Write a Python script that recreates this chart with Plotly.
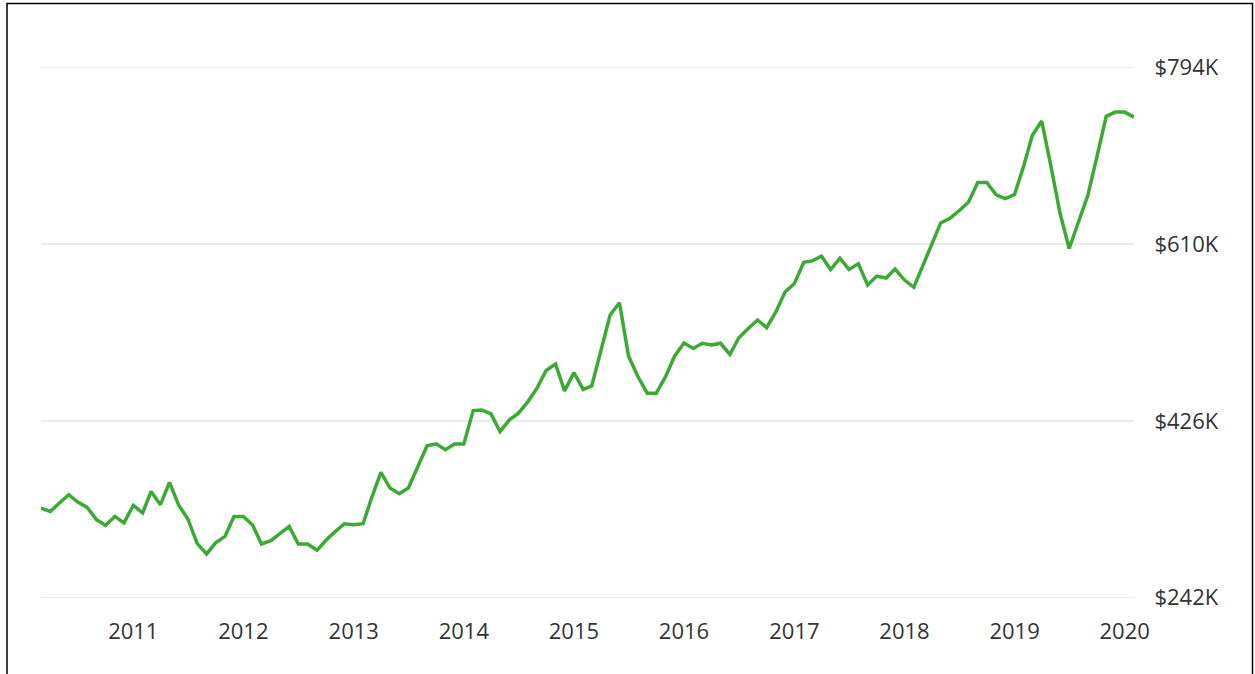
import pandas as pd
import plotly.graph_objects as go

# Monthly median values (thousand $), March 2010 .. February 2020
months = pd.date_range("2010-03-01", "2020-02-01", freq="MS").strftime("%Y-%m-%d").tolist()
values_k = [
    335.2, 331.7, 340.4, 349.1, 341.5, 335.9, 323.1, 317.2, 326.5, 319.7,
    338.0, 330.1, 352.5, 338.7, 361.9, 338.0, 323.8, 298.1, 287.4, 298.9,
    305.7, 326.5, 326.5, 317.2, 297.8, 301.3, 308.5, 316.1, 297.8, 297.8,
    291.2, 301.6, 310.9, 318.9, 317.9, 318.9, 345.6, 372.3, 356.0, 350.1,
    356.0, 377.9, 400.0, 402.1, 395.9, 401.8, 401.8, 436.7, 437.4, 433.3,
    414.9, 427.0, 434.0, 445.8, 460.3, 478.5, 485.1, 457.2, 476.2, 458.7,
    462.4, 499.8, 536.2, 549.0, 493.6, 472.1, 454.8, 454.8, 472.1, 493.6,
    507.1, 501.4, 506.8, 505.0, 506.8, 495.1, 512.6, 522.2, 531.0, 523.0,
    539.6, 560.1, 569.1, 591.0, 592.6, 597.5, 583.5, 595.4, 583.7, 589.5,
    567.4, 576.7, 574.7, 584.0, 572.6, 565.1, 587.1, 609.5, 632.1, 637.0,
    644.8, 653.7, 674.3, 674.3, 661.3, 657.5, 661.7, 692.1, 723.3, 738.2,
    692.1, 641.9, 605.5, 633.2, 660.9, 700.8, 743.1, 747.5, 747.5, 742.3,
]
y_ticks = [242, 426, 610, 794]
y_tick_labels = ["$242K", "$426K", "$610K", "$794K"]
x_ticks = [f"{y}-01-01" for y in range(2011, 2021)]
x_tick_labels = [str(y) for y in range(2011, 2021)]

fig = go.Figure()
fig.add_trace(go.Scatter(
    x=months, y=values_k, mode="lines",
    line=dict(color="#3aaa35", width=3.5),
    hoverinfo="skip", showlegend=False,
))

T, B = 66, 75
fig.update_layout(
    width=1255, height=674,
    margin=dict(l=41, r=121, t=T, b=B),
    paper_bgcolor="white", plot_bgcolor="white",
    font=dict(family="Open Sans", size=22, color="#333333"),
    xaxis=dict(
        type="date",
        range=[months[0], months[-1]],
        tickmode="array", tickvals=x_ticks, ticktext=x_tick_labels,
        showgrid=False, zeroline=False, showline=False,
        ticks="outside", ticklen=13, tickcolor="rgba(0,0,0,0)",
        tickfont=dict(size=22, color="#333333"),
    ),
    yaxis=dict(
        side="right",
        range=[240.5, 795.5],
        tickmode="array", tickvals=y_ticks, ticktext=y_tick_labels,
        showgrid=True, gridcolor="#ebebeb", gridwidth=1.5,
        zeroline=False, showline=False,
        ticks="outside", ticklen=15, tickcolor="rgba(0,0,0,0)",
        tickfont=dict(size=22, color="#333333"),
    ),
    shapes=[dict(
        type="rect", xref="paper", yref="paper",
        x0=(7 - 41) / 1093, x1=(1252.5 - 41) / 1093,
        y0=-0.2, y1=(674 - B - 3.5) / (674 - T - B),
        line=dict(color="black", width=1.5), fillcolor="rgba(0,0,0,0)",
        layer="below",
    )],
)

fig.write_html(
    "out.html",
    config={"displayModeBar": False, "staticPlot": True},
    post_script="document.body.style.margin='0';document.body.style.overflow='hidden';",
)
